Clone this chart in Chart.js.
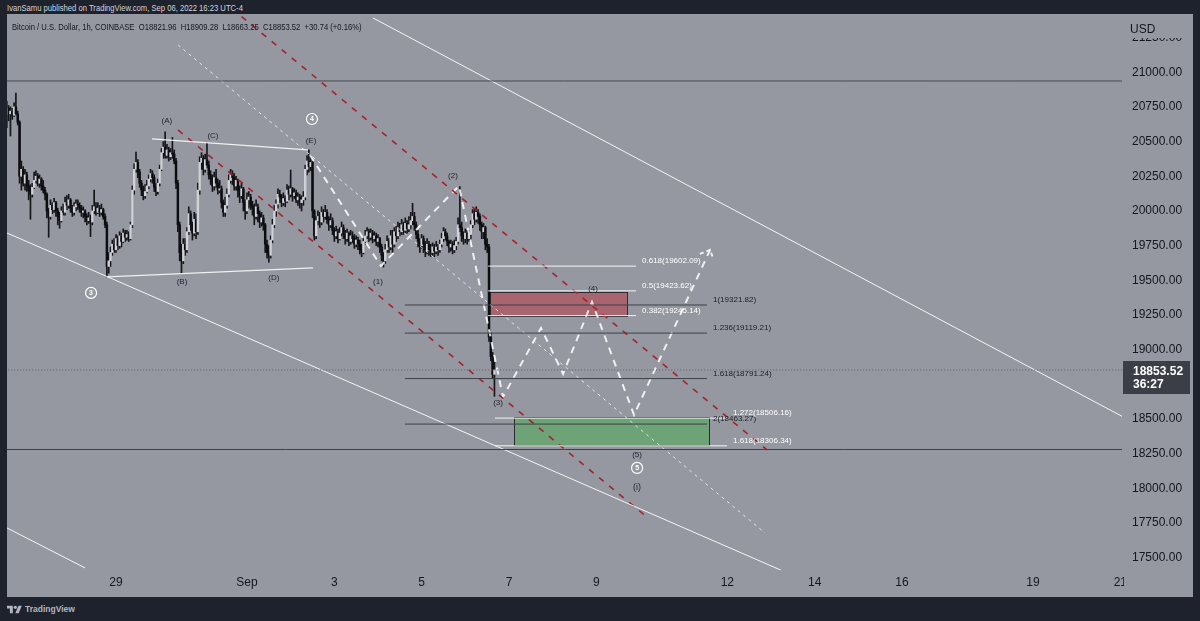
<!DOCTYPE html>
<html>
<head>
<meta charset="utf-8">
<script src="https://cdn.jsdelivr.net/npm/chart.js@4.4.0/dist/chart.umd.min.js"></script>
<style>
  html, body { margin: 0; padding: 0; width: 1200px; height: 621px; overflow: hidden; background: #1e222d; font-family: "Liberation Sans", Arial, sans-serif; }
  #panel { position: absolute; left: 7px; top: 14px; width: 1186px; height: 583px; background: #9598a0; }
  #chart { position: absolute; left: 0; top: 0; }
  #pub { position: absolute; left: 7px; top: 3px; font-size: 8.5px; color: #d1d4dc; white-space: pre; transform: scaleX(0.9); transform-origin: left top; }
  #legend { position: absolute; left: 12px; top: 22px; font-size: 8.5px; color: #131722; white-space: pre; transform: scaleX(0.9); transform-origin: left top; }
  #brand { position: absolute; left: 7px; top: 604px; font-size: 8.5px; font-weight: bold; color: #b2b5be; display: flex; align-items: center; gap: 3px; }
</style>
</head>
<body>
<div id="pub">IvanSamu published on TradingView.com, Sep 06, 2022 16:23 UTC-4</div>
<div id="panel"><canvas id="chart" width="1186" height="583"></canvas></div>
<div id="legend">Bitcoin / U.S. Dollar, 1h, COINBASE  O18821.96  H18909.28  L18663.25  C18853.52  +30.74 (+0.16%)</div>
<div id="brand"><svg width="15" height="10" viewBox="0 0 36 24"><path d="M14 22H7V11H0V4h14v18z" fill="#b2b5be"/><circle cx="20" cy="8" r="4" fill="#b2b5be"/><path d="M28 22h-8l7.5-18h8L28 22z" fill="#b2b5be"/></svg>TradingView</div>
<script>
// hours counted from Aug 26 00:00 (UTC-4), one candle per hour
const firstHour = 12;
const firstOpen = 20700;
const closes = [
  20740,20700,20720,20690,20750,20700,20640,20250,20300,20200,20260,20180, // 12-23
  20150,20120,20170,20220,20250,20200,20230,20180,20150,20120,20000,19960, // 24-35
  20040,20010,20060,20000,19960,19930,20000,19990,20060,20040,20080,20020, // 36-47
  19990,20030,20050,20040,20020,19990,20000,19960,19930,19950,19920,20000, // 48-59
  20030,19990,20020,19990,20010,19960,19900,19600,19640,19700,19760,19720, // 60-71
  19800,19750,19820,19780,19840,19810,19830,19800,19900,20150,20300,20350, // 72-83
  20280,20200,20150,20110,20140,20180,20230,20270,20240,20170,20140,20200, // 84-95
  20300,20420,20460,20400,20440,20390,20420,20410,20360,20200,19900,19700, // 96-107
  19640,19760,19720,19850,19980,19900,19840,19940,19850,20150,20350,20380, // 108-119
  20300,20370,20330,20260,20230,20180,20240,20200,20150,20160,20060,19990, // 120-131
  20040,20120,20220,20260,20240,20180,20220,20150,20110,20160,20060,20000, // 132-143
  20080,20100,20040,20020,19960,20030,19980,19920,19950,19900,19760,19700, // 144-155
  19680,19790,19900,20000,20050,20120,20100,20060,20090,20070,20150,20120, // 156-167
  20160,20110,20130,20080,20100,20060,20080,20100,20300,20360,20320,20350, // 168-179
  20000,19820,19930,19960,19920,19990,19960,19990,19940,19900,19930,19860, // 180-191
  19820,19850,19800,19840,19880,19830,19800,19840,19780,19820,19800,19760, // 192-203
  19790,19760,19720,19700,19780,19820,19850,19810,19840,19800,19820,19780, // 204-215
  19800,19740,19680,19640,19720,19780,19740,19820,19760,19850,19820,19880, // 216-227
  19850,19900,19860,19910,19870,19900,19930,19960,19900,19830,19780,19750, // 228-239
  19800,19760,19710,19760,19720,19700,19740,19710,19740,19720,19760,19800, // 240-251
  19850,19820,19780,19740,19760,19720,19750,19780,19900,19880,19820,19800, // 252-263
  19840,19800,19830,19900,19980,19940,19990,19960,19900,19850,19880,19760, // 264-275
  19740,19090,18950,18822,18853.52                                         // 276-280
];
const highs = [
  20790,20760,20750,20740,20780,20850,20720,20650,20360,20320,20300,20280,
  20220,20190,20200,20280,20290,20270,20260,20240,20220,20170,20130,20020,
  20080,20060,20090,20070,20020,19990,20030,20050,20100,20110,20120,20090,
  20040,20060,20080,20080,20060,20040,20030,20010,19980,19990,19970,20040,
  20150,20060,20060,20040,20050,20020,19980,19920,19700,19740,19790,19800,
  19830,19820,19850,19840,19870,19860,19860,19850,19920,20180,20340,20425,
  20370,20300,20220,20180,20190,20220,20260,20300,20290,20260,20200,20230,
  20330,20450,20500,20570,20480,20460,20450,20530,20440,20380,20220,19920,
  19760,19800,19800,19880,20030,20000,19920,19990,19980,20200,20390,20420,
  20400,20410,20490,20360,20290,20260,20280,20300,20230,20220,20180,20080,
  20100,20160,20260,20300,20290,20270,20250,20230,20180,20200,20170,20080,
  20130,20140,20120,20070,20050,20080,20050,20000,19990,19970,19910,19790,
  19750,19820,19940,20040,20080,20160,20150,20120,20130,20110,20190,20180,
  20295,20170,20160,20150,20130,20120,20110,20140,20330,20400,20440,20400,
  20360,20010,19960,20000,19990,20030,20010,20040,20010,19960,19980,19950,
  19880,19890,19870,19880,19920,19900,19860,19870,19850,19860,19850,19830,
  19820,19810,19790,19760,19800,19860,19880,19870,19870,19860,19850,19840,
  19830,19810,19760,19700,19760,19820,19800,19860,19860,19880,19890,19920,
  19910,19940,19920,19950,19930,19960,19990,20055,19990,19920,19860,19800,
  19830,19820,19780,19800,19780,19760,19770,19760,19780,19760,19790,19840,
  19880,19870,19840,19790,19790,19780,19790,19810,19950,20175,19920,19850,
  19870,19860,19860,19930,20010,20020,20030,20010,19980,19920,19910,19890,
  19800,19760,19120,18980,18909.28
];
const lows = [
  20600,20650,20540,20660,20680,20690,20620,20200,20150,20180,20150,20140,
  20080,19940,20100,20160,20200,20180,20170,20150,20130,20080,19950,19810,
  19940,19980,19990,19960,19900,19875,19920,19970,19970,20010,20020,19990,
  19960,19970,20000,20010,19990,19960,19950,19920,19900,19910,19815,19900,
  19980,19970,19980,19960,19970,19940,19880,19525,19550,19600,19680,19700,
  19700,19720,19730,19740,19770,19780,19790,19780,19790,19880,20120,20280,
  20240,20170,20110,20080,20090,20130,20160,20210,20200,20140,20110,20120,
  20180,20290,20380,20380,20380,20360,20370,20380,20340,20160,19850,19640,
  19550,19620,19680,19700,19830,19860,19790,19820,19800,19830,20120,20300,
  20260,20280,20310,20230,20190,20140,20150,20170,20120,20130,20020,19960,
  19960,20020,20100,20200,20190,20150,20150,20100,20060,20090,20000,19940,
  19980,20020,20010,19970,19900,19940,19920,19880,19890,19860,19700,19660,
  19630,19660,19770,19880,19960,20020,20060,20030,20040,20030,20060,20080,
  20100,20070,20090,20060,20040,20020,20000,20040,20080,20260,20280,20290,
  19950,19790,19800,19900,19880,19900,19920,19940,19910,19860,19880,19830,
  19780,19800,19770,19790,19820,19800,19760,19780,19750,19760,19770,19730,
  19740,19720,19690,19670,19690,19760,19800,19780,19790,19770,19780,19750,
  19740,19700,19640,19595,19620,19700,19700,19720,19700,19740,19780,19800,
  19820,19830,19830,19840,19840,19850,19870,19900,19860,19800,19740,19700,
  19730,19700,19670,19690,19680,19670,19680,19670,19690,19680,19700,19740,
  19780,19790,19750,19700,19710,19690,19700,19720,19760,19850,19780,19760,
  19770,19760,19780,19800,19880,19900,19920,19910,19860,19800,19800,19720,
  19700,19060,18920,18790,18663.25
];

const lastPrice = 18853.52;
const countdown = '36:27';

const hourMin = 12.1, hourMax = 624.9;
const priceMin = 17411, priceMax = 21420;
const priceTicks = [17500,17750,18000,18250,18500,18750,19000,19250,19500,19750,20000,20250,20500,20750,21000,21250];
const timeTicks = [72,144,192,240,288,336,408,456,504,576,624];
const timeLabels = ['29','Sep','3','5','7','9','12','14','16','19','21'];

// drawings, as [hour, price] anchor points
const levelHigh = 20937;
const levelLow = 18280;
const channelTop = [[213.3,21391],[625.5,18515]];
const channelBottom = [[12.1,19841],[439.7,17397]];
const cornerLine = [[12.1,17714],[55,17426]];
const triangleTop = [[91.8,20519],[177.5,20440]];
const triangleBottom = [[67.1,19524],[180.3,19589]];
const guideLine = [[106.1,21197],[428.7,17678]];
const redUpper = [[130,21521],[429.8,18277]];
const redLower = [[106.1,20584],[364.4,17786]];
const wavePath = [[178.6,20403],[217.6,19603],[260.5,20180],[284.7,18659],[305.6,19156],[317.7,18825],[333.6,19344],[356.7,18529],[398.5,19719]];
const arrowHead = [[392.9,19690],[398.5,19719],[400.1,19661]];

const redBoxHours = [277.6,352.9], redBoxPrices = [19241,19414];
const greenBoxHours = [290.8,397.9], greenBoxPrices = [18313,18513];

const retraceLevels = ['0.618','0.5','0.382'];
const retracePrices = [19602.09,19423.62,19245.14];
const retraceHours = [276.5,357.8];
const extLevels = ['1','1.236','1.618','2'];
const extPrices = [19321.82,19119.21,18791.24,18463.27];
const extHours = [230.8,396.8];
const targetLevels = ['1.272','1.618'];
const targetPrices = [18506.16,18306.34];
const targetHours = [280.3,407.8];

const waveText = ['(A)','(B)','(C)','(D)','(E)','(1)','(2)','(3)','(4)','(5)','(i)'];
const waveHours = [100.0,108.3,125.3,158.8,179.2,216.0,257.2,282.0,334.2,358.4,358.4];
const wavePrices = [20649,19488,20541,19517,20505,19488,20252,18616,19438,18241,18003];
const circleText = ['3','4','5'];
const circleHours = [58.3,179.7,358.4];
const circlePrices = [19409,20663,18147];

Chart.defaults.font.family = "'Liberation Sans', Arial, sans-serif";

const opens = closes.map((c, i) => i === 0 ? firstOpen : closes[i - 1]);
const upColor = '#cfd1d7', downColor = '#0c0d10';

function lineSet(points, color, width, dash) {
  return {
    type: 'line',
    data: points.map(p => ({ x: p[0], y: p[1] })),
    borderColor: color,
    borderWidth: width,
    borderDash: dash || [],
    pointRadius: 0,
    fill: false,
    tension: 0,
    order: 0
  };
}

function flat(hours, price) {
  return [[hours[0], price], [hours[1], price]];
}

const lineSets = [];
// full width levels
lineSets.push(lineSet(flat([hourMin - 1, hourMax + 1], levelHigh), '#474a53', 1));
lineSets.push(lineSet(flat([hourMin - 1, hourMax + 1], levelLow), '#3d4049', 1));
lineSets.push(lineSet(flat([hourMin - 1, hourMax + 1], lastPrice), '#5d606b', 1, [1, 2]));
// fib levels
retracePrices.forEach(p => lineSets.push(lineSet(flat(retraceHours, p), 'rgba(255,255,255,0.9)', 1)));
extPrices.forEach(p => lineSets.push(lineSet(flat(extHours, p), '#3d4049', 1)));
targetPrices.forEach(p => lineSets.push(lineSet(flat(targetHours, p), 'rgba(255,255,255,0.9)', 1)));
// trend lines
lineSets.push(lineSet(channelTop, 'rgba(255,255,255,0.9)', 1));
lineSets.push(lineSet(channelBottom, 'rgba(255,255,255,0.9)', 1));
lineSets.push(lineSet(cornerLine, 'rgba(255,255,255,0.9)', 1));
lineSets.push(lineSet(triangleTop, 'rgba(255,255,255,0.85)', 1.3));
lineSets.push(lineSet(triangleBottom, 'rgba(255,255,255,0.85)', 1.3));
lineSets.push(lineSet(guideLine, 'rgba(255,255,255,0.75)', 1, [3, 4]));
lineSets.push(lineSet(redUpper, '#a5222d', 1.6, [6, 7]));
lineSets.push(lineSet(redLower, '#a5222d', 1.6, [6, 7]));
lineSets.push(lineSet(wavePath, 'rgba(255,255,255,0.85)', 2, [7, 6]));
lineSets.push(lineSet(arrowHead, 'rgba(255,255,255,0.85)', 2, [4, 3]));

const bodySet = {
  type: 'bar',
  data: closes.map((c, i) => ({ x: firstHour + i, y: [opens[i], c] })),
  backgroundColor: ctx => closes[ctx.dataIndex] >= opens[ctx.dataIndex] ? upColor : downColor,
  borderWidth: 0,
  barThickness: 1.8,
  minBarLength: 1,
  grouped: false,
  order: 10
};
const wickSet = {
  type: 'bar',
  data: closes.map((c, i) => ({ x: firstHour + i, y: [Math.min(lows[i], opens[i], c), Math.max(highs[i], opens[i], c)] })),
  backgroundColor: '#15161a',
  borderWidth: 0,
  barThickness: 1,
  grouped: false,
  order: 11
};

function drawBox(ctx, x, y, hours, prices, fill) {
  const x0 = Math.round(x.getPixelForValue(hours[0])), x1 = Math.round(x.getPixelForValue(hours[1]));
  const y0 = Math.round(y.getPixelForValue(prices[1])), y1 = Math.round(y.getPixelForValue(prices[0]));
  ctx.fillStyle = fill;
  ctx.fillRect(x0, y0, x1 - x0, y1 - y0);
  ctx.strokeStyle = '#2b2d33';
  ctx.lineWidth = 1;
  ctx.strokeRect(x0 + 0.5, y0 + 0.5, x1 - x0, y1 - y0);
}

function fibLabels(ctx, x, y, levels, prices, hours, color) {
  const lx = x.getPixelForValue(hours[1]) + 6;
  ctx.fillStyle = color;
  ctx.font = "8px 'Liberation Sans', Arial, sans-serif";
  ctx.textAlign = 'left';
  ctx.textBaseline = 'bottom';
  levels.forEach((lv, i) => {
    ctx.fillText(lv + '(' + prices[i].toFixed(2) + ')', lx, y.getPixelForValue(prices[i]) - 1);
  });
}

// chart.js reserves room for the edge tick labels; the price scale here runs to the panel edges
function noEdgePadding(s) {
  s.paddingTop = 0;
  s.paddingBottom = 0;
  s.paddingLeft = 0;
  s.paddingRight = 0;
}

const overlayPlugin = {
  id: 'overlay',
  beforeDatasetsDraw(chart) {
    const { ctx, chartArea: a, scales: { x, y } } = chart;
    ctx.save();
    ctx.beginPath();
    ctx.rect(a.left, a.top, a.width, a.height);
    ctx.clip();
    drawBox(ctx, x, y, redBoxHours, redBoxPrices, 'rgba(192, 40, 52, 0.45)');
    drawBox(ctx, x, y, greenBoxHours, greenBoxPrices, 'rgba(72, 172, 78, 0.5)');
    ctx.restore();
  },
  afterDatasetsDraw(chart) {
    const { ctx, scales: { x, y } } = chart;
    ctx.save();
    fibLabels(ctx, x, y, retraceLevels, retracePrices, retraceHours, '#ffffff');
    fibLabels(ctx, x, y, extLevels, extPrices, extHours, '#1c1e24');
    fibLabels(ctx, x, y, targetLevels, targetPrices, targetHours, '#ffffff');

    ctx.textAlign = 'center';
    ctx.textBaseline = 'middle';
    ctx.fillStyle = '#23262e';
    waveText.forEach((t, i) => {
      ctx.font = (t === '(i)' ? '9px' : '8px') + " 'Liberation Sans', Arial, sans-serif";
      ctx.fillText(t, x.getPixelForValue(waveHours[i]), y.getPixelForValue(wavePrices[i]));
    });
    circleText.forEach((t, i) => {
      const cx = x.getPixelForValue(circleHours[i]), cy = y.getPixelForValue(circlePrices[i]);
      ctx.strokeStyle = '#ffffff';
      ctx.lineWidth = 1.2;
      ctx.beginPath();
      ctx.arc(cx, cy, 5.5, 0, Math.PI * 2);
      ctx.stroke();
      ctx.fillStyle = '#ffffff';
      ctx.font = "bold 7px 'Liberation Sans', Arial, sans-serif";
      ctx.fillText(t, cx, cy + 0.5);
    });
    ctx.restore();
  },
  afterDraw(chart) {
    const { ctx, chartArea: a, scales: { y }, width, height } = chart;
    ctx.save();
    // price scale header
    ctx.fillStyle = '#9598a0';
    ctx.fillRect(a.right + 1, 0, width - a.right, 24);
    ctx.fillStyle = '#131722';
    ctx.font = "12px 'Liberation Sans', Arial, sans-serif";
    ctx.textAlign = 'left';
    ctx.textBaseline = 'middle';
    ctx.fillText('USD', a.right + 8, 16);
    // time label cut by the price scale
    ctx.fillStyle = '#9598a0';
    ctx.fillRect(a.right + 2, a.bottom + 1, 12, height - a.bottom);
    // last price tag
    const py = y.getPixelForValue(lastPrice);
    ctx.fillStyle = '#3b3e46';
    ctx.fillRect(a.right + 1, Math.round(py) - 9, 67, 33);
    ctx.fillStyle = '#ffffff';
    ctx.font = "bold 12px 'Liberation Sans', Arial, sans-serif";
    ctx.fillText(lastPrice.toFixed(2), a.right + 11, py + 2);
    ctx.fillText(countdown, a.right + 11, py + 15);
    ctx.restore();
  }
};

new Chart(document.getElementById('chart'), {
  type: 'bar',
  data: { datasets: [...lineSets, bodySet, wickSet] },
  options: {
    responsive: false,
    animation: false,
    events: [],
    layout: { padding: 0 },
    plugins: { legend: { display: false }, tooltip: { enabled: false } },
    scales: {
      x: {
        type: 'linear',
        min: hourMin,
        max: hourMax,
        offset: false,
        grid: { display: false, drawTicks: false },
        border: { display: false },
        afterBuildTicks: s => { s.ticks = timeTicks.map(v => ({ value: v })); },
        afterFit: s => { s.height = 27; noEdgePadding(s); },
        ticks: {
          autoSkip: false,
          maxRotation: 0,
          padding: 5,
          color: '#131722',
          font: { size: 12 },
          callback: (v, i) => timeLabels[i]
        }
      },
      y: {
        position: 'right',
        min: priceMin,
        max: priceMax,
        beginAtZero: false,
        grid: { display: false, drawTicks: false },
        border: { display: false },
        afterBuildTicks: s => { s.ticks = priceTicks.map(v => ({ value: v })); },
        afterFit: s => { s.width = 71; noEdgePadding(s); },
        ticks: {
          padding: 10,
          color: '#131722',
          font: { size: 12 },
          callback: v => Number(v).toFixed(2)
        }
      }
    }
  },
  plugins: [overlayPlugin]
});
</script>
</body>
</html>
